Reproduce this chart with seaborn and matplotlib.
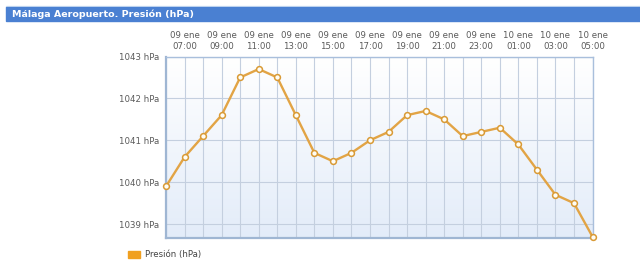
import numpy as np
import pandas as pd
import matplotlib
matplotlib.use("Agg")
import matplotlib.pyplot as plt
import seaborn as sns
from matplotlib.patches import Rectangle

hours = ["06:00", "07:00", "08:00", "09:00", "10:00", "11:00", "12:00", "13:00",
         "14:00", "15:00", "16:00", "17:00", "18:00", "19:00", "20:00", "21:00",
         "22:00", "23:00", "00:00", "01:00", "02:00", "03:00", "04:00", "05:00"]
days = ["09 ene"] * 18 + ["10 ene"] * 6
pressure = [1039.9, 1040.6, 1041.1, 1041.6, 1042.5, 1042.7, 1042.5, 1041.6,
            1040.7, 1040.5, 1040.7, 1041.0, 1041.2, 1041.6, 1041.7, 1041.5,
            1041.1, 1041.2, 1041.3, 1040.9, 1040.3, 1039.7, 1039.5, 1038.7]
yticks = [1039, 1040, 1041, 1042, 1043]
title = "Málaga Aeropuerto. Presión (hPa)"
series_name = "Presión (hPa)"

df = pd.DataFrame({"idx": range(len(pressure)), "p": pressure})

sns.set_theme(style="white")
plt.rcParams['font.family'] = ['DejaVu Sans']

fig = plt.figure(figsize=(6.4, 2.78), dpi=100)
W, H = 640, 278
ax = fig.add_axes([166 / W, 1 - 237.5 / H, (592.5 - 166) / W, (237.5 - 56.5) / H])

# gradient background
grad = np.linspace(0, 1, 100).reshape(-1, 1)
cmap = matplotlib.colors.LinearSegmentedColormap.from_list("bg", ["#ffffff", "#e3ecf9"])
ax.imshow(grad, extent=[0, 1, 0, 1], transform=ax.transAxes, aspect="auto",
          cmap=cmap, zorder=0)

n = len(pressure)
ax.set_xlim(0, n - 1)
ax.set_ylim(1038.68, 1043)

# grid
for i in range(n):
    ax.axvline(i, color="#c4cfdf", lw=0.8, zorder=1)
for yv in yticks:
    ax.axhline(yv, color="#c4cfdf", lw=0.8, zorder=1)

sns.lineplot(data=df, x="idx", y="p", ax=ax, color="#e2a445", lw=1.7,
             marker="o", markersize=4.2, markerfacecolor="#fffdf5",
             markeredgecolor="#d99a35", markeredgewidth=1.1, zorder=3,
             clip_on=False)

xt = list(range(1, n, 2))
ax.set_xticks(xt)
ax.set_xticklabels([f"{days[i]}\n{hours[i]}" for i in xt], fontsize=6.2,
                   color="#5a5a5a", linespacing=1.25)
ax.xaxis.tick_top()
ax.tick_params(axis="x", length=0, pad=4)
ax.set_yticks(yticks)
ax.set_yticklabels([f"{v} hPa" for v in yticks], fontsize=6.2, color="#5a5a5a")
ax.tick_params(axis="y", length=0, pad=5)
ax.set_xlabel("")
ax.set_ylabel("")

for side in ["left", "bottom"]:
    ax.spines[side].set_color("#9fb6d3")
    ax.spines[side].set_linewidth(1.6)
for side in ["top", "right"]:
    ax.spines[side].set_color("#a9bfdc")
    ax.spines[side].set_linewidth(1.0)

# title bar
fig.patches.append(Rectangle((6 / W, 1 - 6.5 / H), 1 - 6 / W, 1 / H,
                             transform=fig.transFigure, color="#d9e6f7", zorder=0))
fig.patches.append(Rectangle((6 / W, 1 - 20.7 / H), 1 - 6 / W, 13.2 / H,
                             transform=fig.transFigure, color="#4a80d2", zorder=0))
fig.text(12 / W, 1 - 14 / H, title, color="white", fontsize=6.8, fontweight="bold",
         va="center", ha="left")

# legend
fig.patches.append(Rectangle((128 / W, 1 - 257.5 / H), 12 / W, 6.5 / H,
                             transform=fig.transFigure, color="#f0a020"))
fig.text(145 / W, 1 - 254.5 / H, series_name, color="#444444", fontsize=6.2,
         va="center", ha="left")

fig.savefig("out.png", dpi=100, facecolor="white")
